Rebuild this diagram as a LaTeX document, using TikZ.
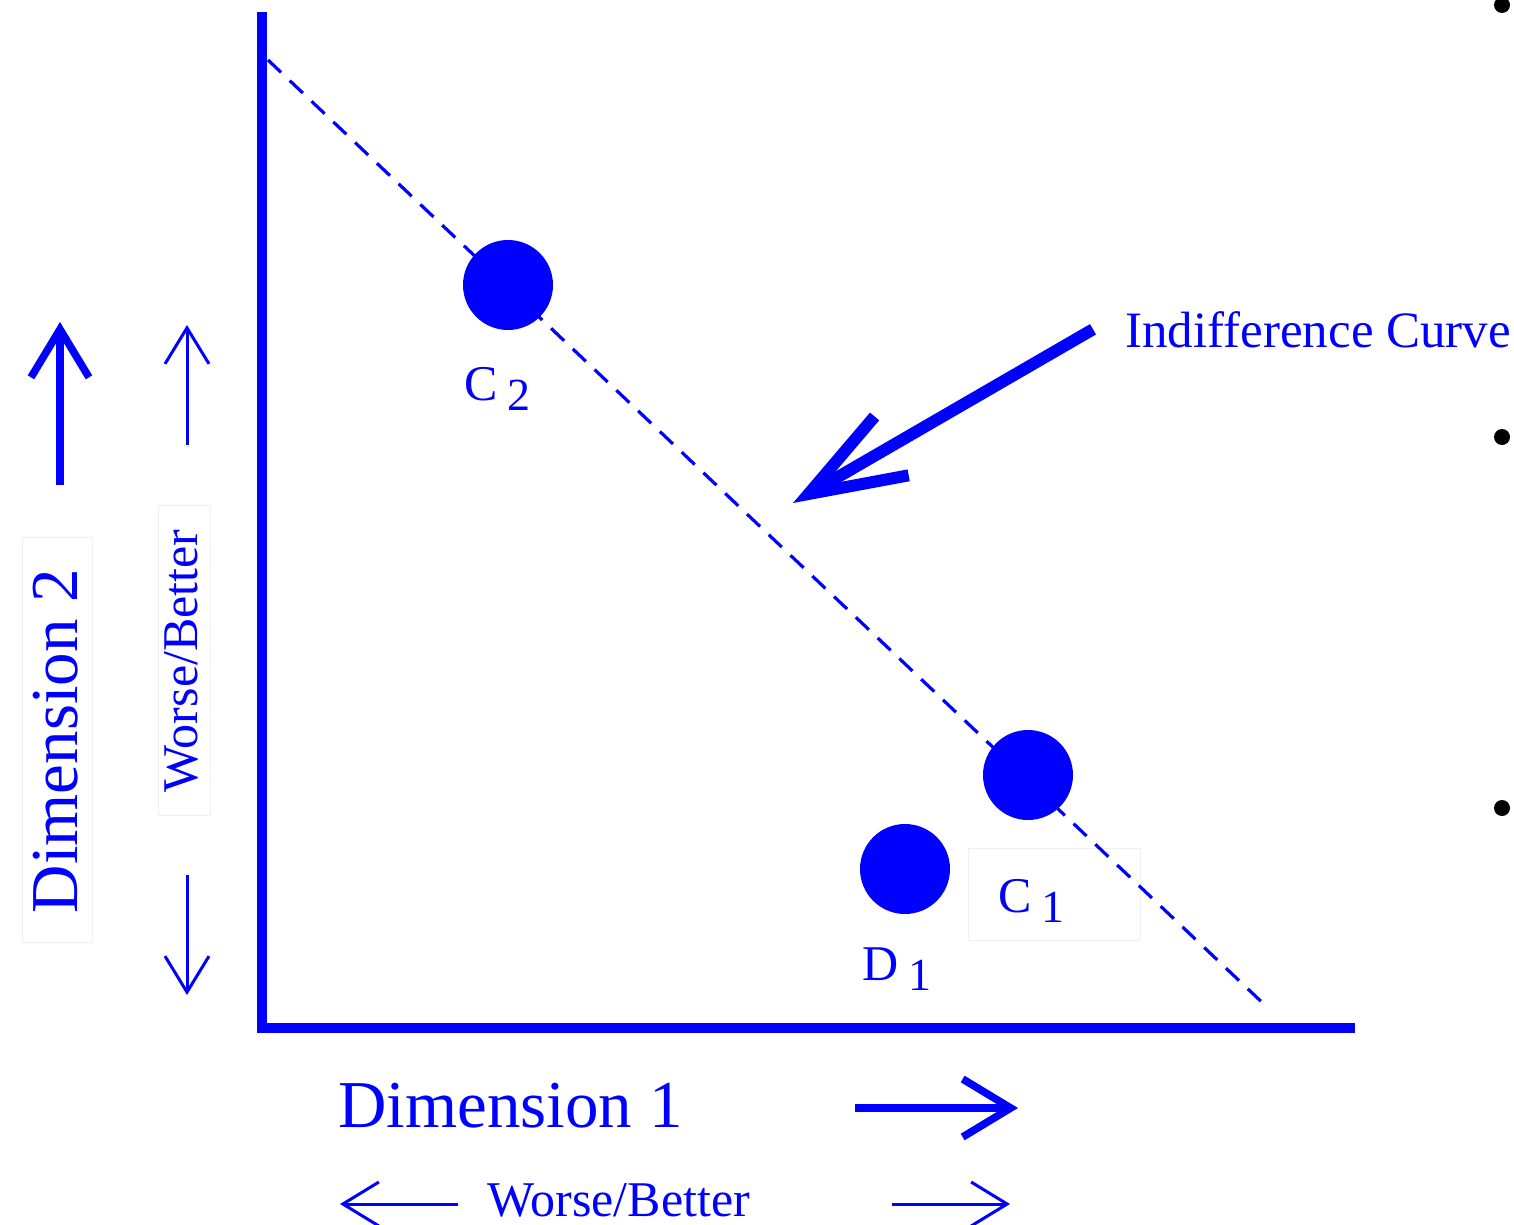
\documentclass[tikz,border=0pt]{standalone}
\usepackage{fontspec}
\setmainfont{Liberation Serif}
\usetikzlibrary{arrows.meta}

\newcommand{\lowdigit}[1]{\raisebox{-5pt}{\fontsize{23pt}{26pt}\selectfont #1}}

\begin{document}
\begin{tikzpicture}[
    x=0.5pt, y=-0.5pt,
    axis/.style    = {blue, line width=5pt, line join=miter},
    curve/.style   = {blue, line width=1.6pt, dash pattern=on 9pt off 6pt},
    choice/.style  = {circle, fill=blue, inner sep=0pt, minimum size=45pt},
    lab/.style     = {blue, inner sep=0pt, font=\fontsize{25pt}{30pt}\selectfont},
    dimlab/.style  = {blue, inner sep=0pt, font=\fontsize{33.5pt}{40pt}\selectfont},
    frame/.style   = {draw=black!6, line width=0.5pt},
    dimarrow/.style= {blue, line width=3.8pt, -{Straight Barb[length=24pt, width=29pt]}},
    hint/.style    = {blue, line width=1.5pt, -{Straight Barb[length=18pt, width=22pt]}},
    pointer/.style = {blue, line width=6pt, -{Straight Barb[length=48pt, width=34pt]}},
    bullet/.style  = {circle, fill=black, inner sep=0pt, minimum size=8pt}
]
\useasboundingbox (0,0) rectangle (1514,1225);

% faint text-box outlines
\draw[frame] (22,537) rectangle (92,942);
\draw[frame] (158,505) rectangle (210,815);
\draw[frame] (968,848) rectangle (1140,940);

% axes
\coordinate (top)    at (262,12);
\coordinate (corner) at (262,1028);
\coordinate (right)  at (1355,1028);
\draw[axis] (top) -- (corner) -- (right);

% indifference curve and the choices on it
\coordinate (icA) at (268,60);
\coordinate (icB) at (1268,1008);
\draw[curve] (icA) -- (icB);

\node[choice] (C2) at (508,285) {};
\node[choice] (C1) at (1028,775) {};
\node[choice] (D1) at (905,869) {};

\node[lab, anchor=base west] (C2lab) at (464,400) {C\hspace{5pt}\lowdigit{2}};
\node[lab, anchor=base west] (C1lab) at (998,912) {C\hspace{5pt}\lowdigit{1}};
\node[lab, anchor=base west] (D1lab) at (862,980) {D\hspace{5pt}\lowdigit{1}};

% pointer to the curve
\node[lab, anchor=base west, font=\fontsize{25.5pt}{30pt}\selectfont] (iclab) at (1125,347) {Indifference Curve};
\coordinate (ictip) at (793,503);
\draw[pointer] ([xshift=-16pt]iclab.west) -- (ictip);

% dimension 2 (vertical)
\node[dimlab, rotate=90, anchor=base] (dim2) at (77,741) {Dimension 2};
\coordinate (d2a) at (60,485);
\coordinate (d2b) at (60,322);
\draw[dimarrow] (d2a) -- (d2b);

\node[lab, rotate=90, anchor=base] (wb2) at (197,661) {Worse/Better};
\coordinate (wbUa) at (187,445);
\coordinate (wbUb) at (187,325);
\coordinate (wbDa) at (187,875);
\coordinate (wbDb) at (187,995);
\draw[hint] (wbUa) -- (wbUb);
\draw[hint] (wbDa) -- (wbDb);

% dimension 1 (horizontal)
\node[dimlab, anchor=base west] (dim1) at (338,1127) {Dimension 1};
\coordinate (d1a) at (855,1108);
\coordinate (d1b) at (1018,1108);
\draw[dimarrow] (d1a) -- (d1b);

\node[lab, anchor=base west] (wb1) at (487,1216) {Worse/Better};
\coordinate (wbLa) at (458,1204);
\coordinate (wbLb) at (340,1204);
\coordinate (wbRa) at (892,1204);
\coordinate (wbRb) at (1010,1204);
\draw[hint] (wbLa) -- (wbLb);
\draw[hint] (wbRa) -- (wbRb);

% slide bullets at the right edge
\foreach \y [count=\i] in {5, 437, 808}
    \node[bullet] (b\i) at (1502,\y) {};

\end{tikzpicture}
\end{document}
